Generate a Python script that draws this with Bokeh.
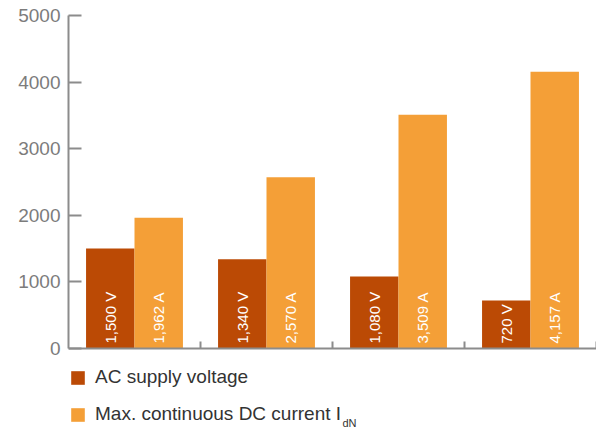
import numpy as np
from bokeh.plotting import figure
from bokeh.models import (ColumnDataSource, FixedTicker, Range1d, Label, Legend,
                          LegendItem, CustomJSTickFormatter)
from bokeh.core.properties import value
from bokeh.embed import file_html
from bokeh.resources import INLINE

categories = ["1", "2", "3", "4"]
voltage = [1500, 1340, 1080, 720]
current = [1962, 2570, 3509, 4157]
voltage_labels = ["1,500 V", "1,340 V", "1,080 V", "720 V"]
current_labels = ["1,962 A", "2,570 A", "3,509 A", "4,157 A"]
series_names = ["AC supply voltage", "Max. continuous DC current I"]
subscript = "dN"
y_ticks = [0, 1000, 2000, 3000, 4000, 5000]

DARK = "#bb4a05"
LIGHT = "#f49f37"
AXIS = "#8c8c8c"
FONT = "Liberation Sans"

W, H = 596, 432
TOP, ZERO_Y = 15, 348          # screen rows of 5000 and 0
Y_MAX = 5000
units_per_px = Y_MAX / (ZERO_Y - TOP)
y_min = -(H - ZERO_Y) * units_per_px   # room below the axis for the legend

bw = 0.367
centers = np.arange(len(categories)) + 0.5
src = ColumnDataSource(dict(
    xv=centers - bw / 2, xc=centers + bw / 2,
    v=voltage, c=current, vl=voltage_labels, cl=current_labels,
    z=[0] * len(categories),
))

p = figure(width=W, height=H, output_backend="svg", toolbar_location=None,
           x_range=Range1d(0, len(categories)), y_range=Range1d(y_min, Y_MAX),
           min_border_left=68, min_border_right=0, min_border_top=TOP, min_border_bottom=0)
p.outline_line_color = None
p.grid.visible = False
p.background_fill_color = "white"

r1 = p.vbar(x="xv", top="v", width=bw, source=src, fill_color=DARK, line_color=None)
r2 = p.vbar(x="xc", top="c", width=bw, source=src, fill_color=LIGHT, line_color=None)

for xcol, tcol in (("xv", "vl"), ("xc", "cl")):
    p.text(x=xcol, y="z", text=tcol, source=src, angle=np.pi / 2,
           text_align="left", text_baseline="middle", y_offset=-5,
           text_color="white", text_font=value(FONT), text_font_size="15px")

# axes
ya = p.yaxis[0]
ya.ticker = FixedTicker(ticks=y_ticks)
ya.bounds = (0, Y_MAX)
ya.axis_line_color = AXIS
ya.axis_line_width = 2
ya.major_tick_line_color = AXIS
ya.major_tick_line_width = 2
ya.major_tick_in = 13
ya.major_tick_out = 0
ya.minor_tick_line_color = None
ya.major_label_text_font = FONT
ya.major_label_text_font_size = "19px"
ya.major_label_text_color = "#7c7c7c"
ya.major_label_standoff = 8

xa = p.xaxis[0]
xa.fixed_location = 0
xa.ticker = FixedTicker(ticks=list(range(1, len(categories) + 1)))
xa.formatter = CustomJSTickFormatter(code="return ''")
xa.axis_line_color = AXIS
xa.axis_line_width = 2
xa.major_tick_line_color = AXIS
xa.major_tick_line_width = 2
xa.major_tick_in = 7
xa.major_tick_out = 0
xa.minor_tick_line_color = None
xa.major_label_standoff = 0

legend = Legend(items=[LegendItem(label=series_names[0], renderers=[r1]),
                       LegendItem(label=series_names[1], renderers=[r2])],
                location=(1, 7), orientation="vertical",
                glyph_width=17, glyph_height=17, label_standoff=9,
                label_text_font=FONT, label_text_font_size="19px",
                label_text_color="#333333", label_height=17, spacing=15,
                padding=0, margin=0, border_line_color=None,
                background_fill_alpha=0)
p.add_layout(legend, "center")

p.add_layout(Label(x=274, y=4, x_units="screen", y_units="screen", text=subscript,
                   text_font=FONT, text_font_size="11px", text_color="#333333"))

open("out.html", "w").write(file_html(p, INLINE))
